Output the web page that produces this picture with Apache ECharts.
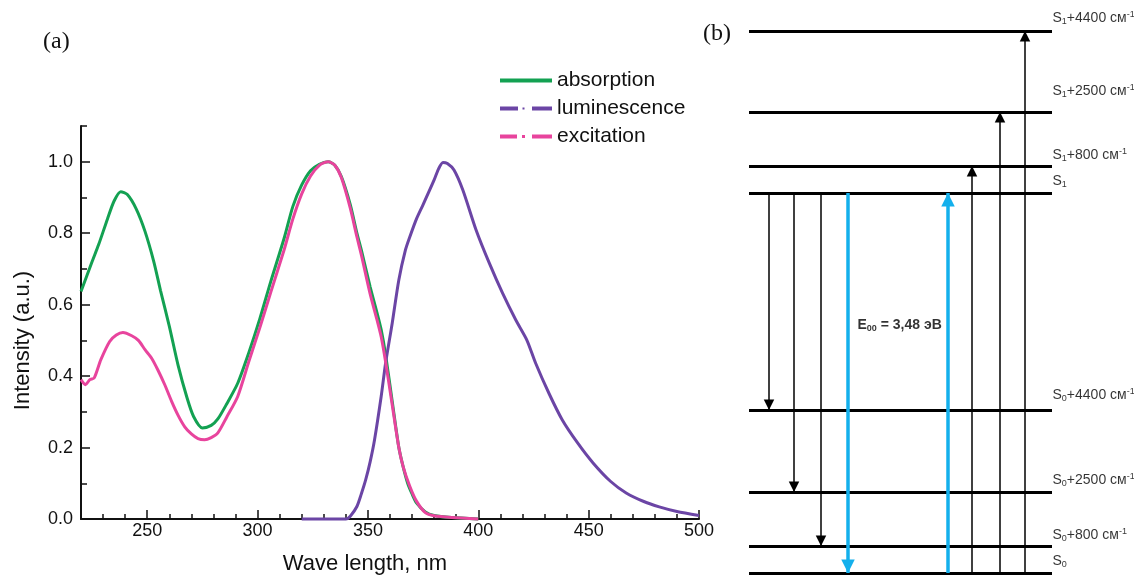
<!DOCTYPE html>
<html>
<head>
<meta charset="utf-8">
<script src="https://cdn.jsdelivr.net/npm/echarts@6/dist/echarts.min.js"></script>
<style>
  html, body { margin: 0; padding: 0; background: #ffffff; }
  #chart { width: 1134px; height: 577px; }
</style>
</head>
<body>
<div id="chart"></div>
<script>
// ---- (a) normalised spectra ----
const absWl = [220, 225, 228, 232, 235, 238, 241, 245, 249, 253, 256, 260, 264, 268, 271, 275, 279, 282, 286, 291,
  296, 301, 306, 312, 316, 320, 324, 328, 332, 335, 338, 342, 345, 347, 351, 354, 356, 358, 361, 364, 366, 368,
  370, 372, 376, 380, 388, 400];
const absVal = [0.637, 0.72, 0.768, 0.84, 0.89, 0.916, 0.908, 0.868, 0.805, 0.72, 0.64, 0.54, 0.43, 0.34, 0.287,
  0.255, 0.262, 0.28, 0.322, 0.38, 0.465, 0.56, 0.665, 0.785, 0.875, 0.935, 0.975, 0.993, 1.0, 0.99, 0.958, 0.88,
  0.8, 0.753, 0.65, 0.58, 0.53, 0.46, 0.33, 0.2, 0.145, 0.1, 0.07, 0.045, 0.02, 0.01, 0.004, 0.0];

const excWl = [220, 222, 224, 226, 229, 233, 236, 239, 243, 246, 249, 252, 255, 258, 261, 264, 267, 270, 273, 276,
  279, 282, 286, 291, 296, 301, 306, 312, 316, 320, 324, 328, 332, 335, 338, 342, 345, 347, 351, 354, 356, 358,
  361, 364, 366, 369, 372, 376, 380, 388, 400];
const excVal = [0.39, 0.376, 0.39, 0.395, 0.446, 0.497, 0.515, 0.522, 0.513, 0.5, 0.474, 0.45, 0.415, 0.375, 0.33,
  0.29, 0.258, 0.238, 0.225, 0.222, 0.228, 0.241, 0.285, 0.343, 0.44, 0.535, 0.635, 0.753, 0.84, 0.91, 0.96, 0.99,
  1.0, 0.99, 0.955, 0.87, 0.79, 0.74, 0.63, 0.56, 0.51, 0.44, 0.32, 0.2, 0.145, 0.091, 0.05, 0.018, 0.009, 0.004, 0.0];

const lumWl = [320, 340, 342, 345, 347, 349, 351, 353, 356, 358, 361, 364, 367, 369, 372, 375, 380, 382, 384, 386,
  389, 393, 399, 405, 411, 417, 422, 426, 432, 438, 445, 452, 460, 467, 475, 482, 490, 500];
const lumVal = [0.0, 0.0, 0.008, 0.035, 0.07, 0.11, 0.16, 0.222, 0.343, 0.436, 0.548, 0.669, 0.753, 0.79, 0.84, 0.88,
  0.949, 0.98, 0.998, 0.995, 0.977, 0.921, 0.809, 0.716, 0.632, 0.557, 0.501, 0.436, 0.352, 0.278, 0.213, 0.157,
  0.105, 0.073, 0.049, 0.034, 0.021, 0.01];

const xMajor = [250, 300, 350, 400, 450, 500];
const xMinor = [230, 240, 260, 270, 280, 290, 310, 320, 330, 340, 360, 370, 380, 390, 410, 420, 430, 440, 460, 470, 480, 490];
const yMajor = [0, 0.2, 0.4, 0.6, 0.8, 1.0];
const yMinor = [0.1, 0.3, 0.5, 0.7, 0.9, 1.1];

// ---- (b) level scheme (schematic heights) ----
const levelLabels = [
  '{m|S}{s|0}',
  '{m|S}{s|0}{m|+800 см}{u|-1}',
  '{m|S}{s|0}{m|+2500 см}{u|-1}',
  '{m|S}{s|0}{m|+4400 см}{u|-1}',
  '{m|S}{s|1}',
  '{m|S}{s|1}{m|+800 см}{u|-1}',
  '{m|S}{s|1}{m|+2500 см}{u|-1}',
  '{m|S}{s|1}{m|+4400 см}{u|-1}'
];
const levelPos = [0, 27, 81, 163, 380, 407, 461, 542];
const schemeWidth = 303;

// transitions: x position, from level, to level (indices into levelPos)
const vibX = [20, 45, 72, 223, 251, 276];
const vibFrom = [4, 4, 4, 0, 0, 0];
const vibTo = [3, 2, 1, 5, 6, 7];
const e00X = [99, 199];
const e00From = [4, 0];
const e00To = [0, 4];
const e00Text = '{b|E}{bs|00}{b| = 3,48 эВ}';
const e00Spot = [108, 248];

const labelRaise = [12, 11, 11.5, 15, 12, 11, 21, 13];

const FONT = '"Liberation Sans", Arial, Helvetica, sans-serif';
const INK = '#111111';
const GREEN = '#13a152';
const PURPLE = '#6b45a5';
const PINK = '#e8449d';
const BLUE = '#14b0ec';
const HEAD = 'path://M0,0M20,20M10,10L15,20L5,20Z';

const pairs = (xs, ys) => xs.map((x, i) => [x, ys[i]]);
const transition = (xs, from, to) => xs.map((x, i) => ({
  coords: [[x, levelPos[from[i]]], [x, levelPos[to[i]]]]
}));

const chart = echarts.init(document.getElementById('chart'), null, { renderer: 'canvas' });

chart.setOption({
  animation: false,
  backgroundColor: '#ffffff',
  textStyle: { fontFamily: FONT },
  graphic: [
    { type: 'text', left: 43, top: 30, style: { text: '(a)', font: '24px "Liberation Serif", "Times New Roman", serif', fill: INK } },
    { type: 'text', left: 703, top: 22, style: { text: '(b)', font: '24px "Liberation Serif", "Times New Roman", serif', fill: INK } }
  ],
  legend: {
    orient: 'vertical',
    left: 500,
    top: 70,
    itemWidth: 52,
    itemHeight: 4,
    itemGap: 7,
    padding: 0,
    textStyle: { fontSize: 21, lineHeight: 20, color: INK, fontFamily: FONT },
    data: [
      { name: 'absorption', icon: 'path://M0,0H52V4H0Z' },
      { name: 'luminescence', icon: 'path://M0,0H18V4H0Z M22.5,1H24.5V3H22.5Z M32,0H52V4H32Z' },
      { name: 'excitation', icon: 'path://M0,0H17V4H0Z M22,0.5H25V3.5H22Z M32,0H52V4H32Z' }
    ]
  },
  grid: [
    { left: 81, top: 126, width: 618, height: 393, containLabel: false, outerBoundsMode: 'none' },
    { left: 749, top: 31, width: schemeWidth, height: 542, containLabel: false, outerBoundsMode: 'none' }
  ],
  xAxis: [
    {
      type: 'value', gridIndex: 0, min: 220, max: 500,
      name: 'Wave length, nm', nameLocation: 'middle', nameGap: 34, nameMoveOverlap: false,
      nameTextStyle: { fontSize: 22, color: INK, padding: [0, 50, 0, 0] },
      axisLine: { show: true, onZero: false, lineStyle: { color: INK, width: 2 } },
      axisTick: { show: true, inside: true, length: 9, customValues: xMajor, lineStyle: { color: INK, width: 1.5 } },
      axisLabel: { show: true, customValues: xMajor, fontSize: 18, color: INK, margin: 3 },
      splitLine: { show: false }
    },
    {
      type: 'value', gridIndex: 0, min: 220, max: 500, position: 'bottom',
      axisLine: { show: false },
      axisTick: { show: true, inside: true, length: 5, customValues: xMinor, lineStyle: { color: INK, width: 1.5 } },
      axisLabel: { show: false },
      splitLine: { show: false }
    },
    { type: 'value', gridIndex: 1, min: 0, max: schemeWidth, show: false, splitLine: { show: false } }
  ],
  yAxis: [
    {
      type: 'value', gridIndex: 0, min: 0, max: 1.1, position: 'left',
      name: 'Intensity (a.u.)', nameLocation: 'middle', nameGap: 47, nameMoveOverlap: false,
      nameTextStyle: { fontSize: 22, color: INK, padding: [0, 36, 0, 0] },
      axisLine: { show: true, onZero: false, lineStyle: { color: INK, width: 2 } },
      axisTick: { show: true, inside: true, length: 9, customValues: yMajor, lineStyle: { color: INK, width: 1.5 } },
      axisLabel: { show: true, customValues: yMajor, fontSize: 18, color: INK, margin: 8, formatter: (v) => v.toFixed(1) },
      splitLine: { show: false }
    },
    {
      type: 'value', gridIndex: 0, min: 0, max: 1.1, position: 'left',
      axisLine: { show: false },
      axisTick: { show: true, inside: true, length: 6, customValues: yMinor, lineStyle: { color: INK, width: 1.5 } },
      axisLabel: { show: false },
      splitLine: { show: false }
    },
    { type: 'value', gridIndex: 1, min: 0, max: 542, show: false, splitLine: { show: false } }
  ],
  series: [
    {
      name: 'absorption', type: 'line', xAxisIndex: 0, yAxisIndex: 0, data: pairs(absWl, absVal),
      showSymbol: false, smooth: 0.25, clip: false, color: GREEN,
      itemStyle: { color: GREEN }, lineStyle: { color: GREEN, width: 3 }
    },
    {
      name: 'luminescence', type: 'line', xAxisIndex: 0, yAxisIndex: 0, data: pairs(lumWl, lumVal),
      showSymbol: false, smooth: 0.25, clip: false, color: PURPLE,
      itemStyle: { color: PURPLE }, lineStyle: { color: PURPLE, width: 3 }
    },
    {
      name: 'excitation', type: 'line', xAxisIndex: 0, yAxisIndex: 0, data: pairs(excWl, excVal),
      showSymbol: false, smooth: 0.25, clip: false, color: PINK,
      itemStyle: { color: PINK }, lineStyle: { color: PINK, width: 3 }
    },
    // energy levels
    {
      type: 'lines', coordinateSystem: 'cartesian2d', xAxisIndex: 2, yAxisIndex: 2, clip: false,
      symbol: ['none', 'none'],
      lineStyle: { color: '#000000', width: 3, opacity: 1 },
      data: levelPos.map((y) => ({ coords: [[0, y], [schemeWidth, y]] }))
    },
    // vibronic transitions (thin black)
    {
      type: 'lines', coordinateSystem: 'cartesian2d', xAxisIndex: 2, yAxisIndex: 2, clip: false,
      symbol: ['none', HEAD], symbolSize: [1, 21],
      itemStyle: { color: '#000000' },
      lineStyle: { color: '#000000', width: 1.5, opacity: 1 },
      data: transition(vibX, vibFrom, vibTo)
    },
    // 0-0 transitions (blue)
    {
      type: 'lines', coordinateSystem: 'cartesian2d', xAxisIndex: 2, yAxisIndex: 2, clip: false,
      symbol: ['none', HEAD], symbolSize: [1, 27],
      itemStyle: { color: BLUE },
      lineStyle: { color: BLUE, width: 3.5, opacity: 1 },
      data: transition(e00X, e00From, e00To)
    },
    // level labels
    {
      type: 'scatter', xAxisIndex: 2, yAxisIndex: 2, clip: false, symbolSize: 1,
      itemStyle: { color: 'rgba(0,0,0,0)' },
      data: levelPos.map((y, i) => ({
        name: levelLabels[i], value: [schemeWidth, y],
        label: { offset: [0, -labelRaise[i]] }
      })),
      label: {
        show: true, position: 'right', distance: 0, formatter: (p) => p.name,
        color: '#000000', fontFamily: FONT,
        rich: {
          m: { fontSize: 14, lineHeight: 16, color: '#000000', fontFamily: FONT },
          s: { fontSize: 9, verticalAlign: 'bottom', color: '#000000', fontFamily: FONT },
          u: { fontSize: 9, verticalAlign: 'top', color: '#000000', fontFamily: FONT }
        }
      }
    },
    // E00 annotation
    {
      type: 'scatter', xAxisIndex: 2, yAxisIndex: 2, clip: false, symbolSize: 1,
      itemStyle: { color: 'rgba(0,0,0,0)' },
      data: [{ name: e00Text, value: e00Spot }],
      label: {
        show: true, position: 'right', distance: 0, formatter: (p) => p.name,
        rich: {
          b: { fontSize: 14, lineHeight: 16, fontWeight: 'bold', color: '#000000', fontFamily: FONT },
          bs: { fontSize: 9, fontWeight: 'bold', verticalAlign: 'bottom', color: '#000000', fontFamily: FONT }
        }
      }
    }
  ]
});
</script>
</body>
</html>
